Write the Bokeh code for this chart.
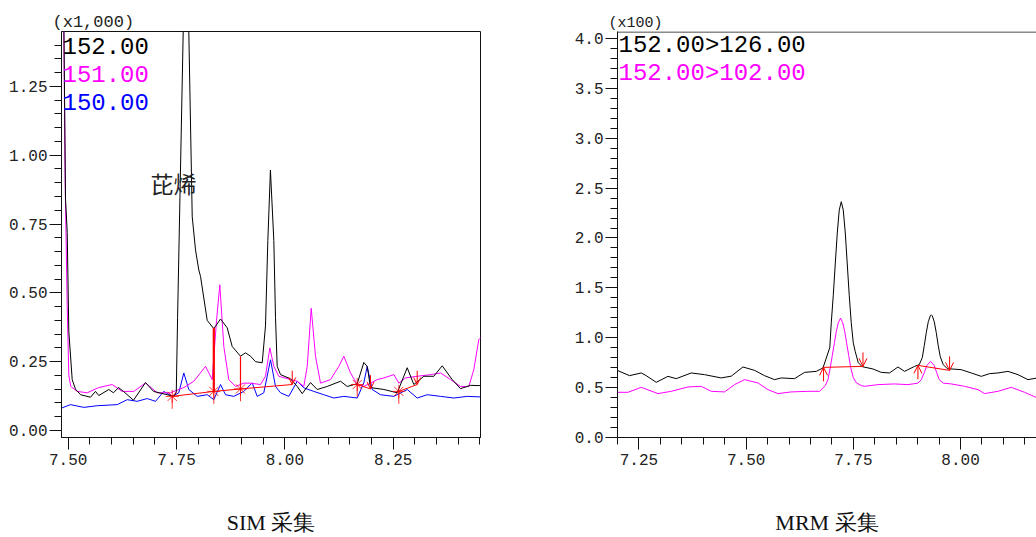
from bokeh.plotting import figure
from bokeh.layouts import row
from bokeh.models import (FixedTicker, PrintfTickFormatter, Label, Span, Arrow,
                          OpenHead, ColumnDataSource, Range1d)
from bokeh.embed import file_html
from bokeh.resources import INLINE

# ---------------- SIM acquisition (intensity, x1,000) ----------------
sim_t_152 = [7.4868, 7.4938, 7.4977, 7.5014, 7.5092, 7.5168, 7.5284, 7.5515, 7.5630, 7.5706,
             7.5937, 7.6045, 7.6161, 7.6276, 7.6507, 7.6784, 7.6969, 7.7285, 7.7437, 7.7494,
             7.7524, 7.7668, 7.7719, 7.7770, 7.7862, 7.7938, 7.8014, 7.8053, 7.8208, 7.8360,
             7.8515, 7.8669, 7.8785, 7.8976, 7.9092, 7.9207, 7.9323, 7.9477, 7.9553, 7.9607,
             7.9667, 7.9745, 7.9784, 7.9823, 7.9900, 8.0130, 8.0285, 8.0400, 8.0592, 8.0747,
             8.0977, 8.1284, 8.1439, 8.1670, 8.1822, 8.1900, 8.1977, 8.2284, 8.2593, 8.2824,
             8.2976, 8.3207, 8.3438, 8.3631, 8.3862, 8.4054, 8.4285, 8.4476, 8.4560]
sim_i_152 = [2.00, 0.84, 0.72, 0.36, 0.185, 0.15, 0.13, 0.121, 0.142, 0.127,
             0.149, 0.137, 0.156, 0.142, 0.110, 0.174, 0.142, 0.130, 0.124, 0.140,
             0.41, 1.56, 2.20, 1.56, 0.776, 0.656, 0.583, 0.56, 0.40, 0.37,
             0.405, 0.373, 0.305, 0.270, 0.282, 0.270, 0.250, 0.246, 0.38, 0.69,
             0.946, 0.69, 0.41, 0.233, 0.203, 0.188, 0.160, 0.134, 0.174, 0.149,
             0.160, 0.179, 0.160, 0.170, 0.247, 0.233, 0.156, 0.149, 0.137, 0.228,
             0.167, 0.197, 0.197, 0.235, 0.185, 0.152, 0.164, 0.163, 0.165]

sim_t_151 = [7.4868, 7.4930, 7.4977, 7.5014, 7.5060, 7.5208, 7.5438, 7.5706, 7.6015, 7.6246,
             7.6514, 7.6784, 7.7054, 7.7361, 7.7668, 7.7899, 7.8169, 7.8323, 7.8423, 7.8499,
             7.8591, 7.8706, 7.8861, 7.9053, 7.9207, 7.9438, 7.9553, 7.9653, 7.9745, 7.9860,
             8.0130, 8.0285, 8.0437, 8.0516, 8.0608, 8.0707, 8.0823, 8.1054, 8.1245, 8.1361,
             8.1515, 8.1670, 8.1822, 8.1977, 8.2131, 8.2284, 8.2516, 8.2630, 8.2784, 8.3054,
             8.3361, 8.3592, 8.3823, 8.4054, 8.4245, 8.4361, 8.4476, 8.4538]
sim_i_151 = [2.00, 0.90, 0.45, 0.20, 0.16, 0.142, 0.137, 0.156, 0.167, 0.142,
             0.142, 0.173, 0.137, 0.137, 0.156, 0.179, 0.233, 0.185, 0.40, 0.529,
             0.305, 0.185, 0.160, 0.172, 0.172, 0.167, 0.197, 0.300, 0.233, 0.197,
             0.185, 0.179, 0.160, 0.233, 0.444, 0.270, 0.172, 0.185, 0.233, 0.270,
             0.209, 0.167, 0.160, 0.172, 0.185, 0.191, 0.203, 0.172, 0.191, 0.197,
             0.203, 0.209, 0.185, 0.160, 0.160, 0.221, 0.330, 0.340]

sim_t_150 = [7.4822, 7.5053, 7.5360, 7.5669, 7.6131, 7.6362, 7.6592, 7.6823, 7.7015, 7.7206,
             7.7400, 7.7552, 7.7668, 7.7783, 7.7977, 7.8208, 7.8360, 7.8515, 7.8630, 7.8822,
             7.9053, 7.9246, 7.9362, 7.9514, 7.9669, 7.9784, 7.9900, 8.0091, 8.0285, 8.0437,
             8.0668, 8.0899, 8.1130, 8.1361, 8.1670, 8.1822, 8.1900, 8.2015, 8.2207, 8.2514,
             8.2824, 8.3054, 8.3285, 8.3592, 8.3899, 8.4208, 8.4515]
sim_i_150 = [0.080, 0.094, 0.084, 0.090, 0.094, 0.112, 0.106, 0.116, 0.106, 0.142,
             0.124, 0.137, 0.209, 0.149, 0.124, 0.130, 0.112, 0.167, 0.130, 0.124,
             0.142, 0.173, 0.124, 0.137, 0.257, 0.160, 0.137, 0.124, 0.179, 0.155,
             0.142, 0.130, 0.118, 0.124, 0.118, 0.173, 0.233, 0.149, 0.130, 0.124,
             0.149, 0.118, 0.130, 0.124, 0.118, 0.124, 0.122]

# integration baselines
sim_base_t = [[7.7400, 7.8360, 7.8976, 8.0170], [8.1670, 8.1977], [8.2630, 8.3054]]
sim_base_i = [[0.124, 0.142, 0.151, 0.167], [0.167, 0.151], [0.142, 0.167]]
# peak starts / ends
sim_start_t = [7.7400, 7.8360, 7.8976, 8.1670, 8.2630]
sim_start_i = [0.124, 0.142, 0.151, 0.167, 0.142]
sim_end_t = [8.0170, 8.1977, 8.3054]
sim_end_i = [0.167, 0.151, 0.167]
# drop lines
sim_drop_t = [7.8360, 7.8976]
sim_drop_lo = [0.142, 0.151]
sim_drop_hi = [0.373, 0.270]
sim_drop_w = [2.2, 1.2]

sim_x_ticks = [7.50, 7.75, 8.00, 8.25]
sim_x_minor = [7.45, 7.55, 7.60, 7.65, 7.70, 7.80, 7.85, 7.90, 7.95, 8.05, 8.10, 8.15,
               8.20, 8.30, 8.35, 8.40, 8.45]
sim_y_ticks = [0.00, 0.25, 0.50, 0.75, 1.00, 1.25]
sim_y_minor = [0.05, 0.10, 0.15, 0.20, 0.30, 0.35, 0.40, 0.45, 0.55, 0.60, 0.65, 0.70,
               0.80, 0.85, 0.90, 0.95, 1.05, 1.10, 1.15, 1.20, 1.30, 1.35, 1.40, 1.45]

# ---------------- MRM acquisition (intensity, x100) ----------------
mrm_t_126 = [7.2010, 7.2280, 7.2554, 7.2670, 7.2903, 7.3176, 7.3370, 7.3720, 7.4030, 7.4419,
             7.4653, 7.4925, 7.5196, 7.5429, 7.5662, 7.5819, 7.6129, 7.6362, 7.6635, 7.6791,
             7.6950, 7.6985, 7.7031, 7.7078, 7.7125, 7.7171, 7.7218, 7.7265, 7.7312, 7.7358,
             7.7405, 7.7451, 7.7498, 7.7545, 7.7615, 7.7708, 7.7957, 7.8151, 7.8344, 7.8540,
             7.8694, 7.8927, 7.9037, 7.9107, 7.9154, 7.9200, 7.9247, 7.9294, 7.9317, 7.9340,
             7.9387, 7.9434, 7.9480, 7.9527, 7.9597, 7.9690, 8.0016, 8.0250, 8.0483, 8.0676,
             8.0872, 8.1105, 8.1339, 8.1572, 8.1789]
mrm_i_126 = [0.670, 0.620, 0.647, 0.620, 0.553, 0.613, 0.590, 0.647, 0.630, 0.597,
             0.615, 0.707, 0.673, 0.620, 0.580, 0.597, 0.590, 0.653, 0.663, 0.697,
             0.900, 1.150, 1.420, 1.740, 2.050, 2.280, 2.363, 2.280, 2.050, 1.740,
             1.420, 1.150, 0.950, 0.860, 0.750, 0.710, 0.687, 0.653, 0.647, 0.707,
             0.663, 0.713, 0.730, 0.800, 0.920, 1.050, 1.160, 1.220, 1.230, 1.220,
             1.160, 1.050, 0.920, 0.810, 0.730, 0.690, 0.680, 0.647, 0.613, 0.640,
             0.647, 0.663, 0.630, 0.580, 0.597]

mrm_t_102 = [7.2010, 7.2243, 7.2554, 7.2943, 7.3253, 7.3643, 7.3953, 7.4186, 7.4496, 7.4729,
             7.4963, 7.5275, 7.5508, 7.5742, 7.6052, 7.6441, 7.6712, 7.6845, 7.6908, 7.6961,
             7.7008, 7.7055, 7.7101, 7.7148, 7.7202, 7.7253, 7.7300, 7.7346, 7.7393, 7.7439,
             7.7498, 7.7568, 7.7684, 7.7761, 7.8074, 7.8461, 7.8773, 7.9006, 7.9084, 7.9154,
             7.9212, 7.9300, 7.9387, 7.9445, 7.9503, 7.9597, 7.9783, 8.0093, 8.0406, 8.0560,
             8.0872, 8.1182, 8.1493, 8.1789]
mrm_i_102 = [0.453, 0.453, 0.503, 0.440, 0.463, 0.507, 0.513, 0.463, 0.457, 0.530,
             0.580, 0.547, 0.480, 0.440, 0.457, 0.463, 0.463, 0.520, 0.580, 0.700,
             0.820, 0.940, 1.060, 1.150, 1.197, 1.150, 1.060, 0.940, 0.820, 0.700,
             0.600, 0.550, 0.520, 0.513, 0.530, 0.537, 0.530, 0.545, 0.580, 0.650,
             0.720, 0.763, 0.720, 0.650, 0.580, 0.545, 0.537, 0.513, 0.480, 0.440,
             0.463, 0.503, 0.453, 0.397]

mrm_base_t = [[7.6805, 7.7724], [7.9006, 7.9744]]
mrm_base_i = [[0.703, 0.713], [0.723, 0.673]]
mrm_start_t = [7.6805, 7.9006]
mrm_start_i = [0.703, 0.723]
mrm_end_t = [7.7724, 7.9744]
mrm_end_i = [0.713, 0.673]

mrm_x_ticks = [7.25, 7.50, 7.75, 8.00]
mrm_x_minor = [7.20, 7.30, 7.35, 7.40, 7.45, 7.55, 7.60, 7.65, 7.70, 7.80, 7.85, 7.90,
               7.95, 8.05, 8.10, 8.15]
mrm_y_ticks = [0.0, 0.5, 1.0, 1.5, 2.0, 2.5, 3.0, 3.5, 4.0]
mrm_y_minor = [0.1, 0.2, 0.3, 0.4, 0.6, 0.7, 0.8, 0.9, 1.1, 1.2, 1.3, 1.4, 1.6, 1.7, 1.8,
               1.9, 2.1, 2.2, 2.3, 2.4, 2.6, 2.7, 2.8, 2.9, 3.1, 3.2, 3.3, 3.4, 3.6, 3.7,
               3.8, 3.9]

MONO = "Liberation Mono"
BLACK, MAGENTA, BLUE, RED = "#000000", "#ff00ff", "#0000ff", "#ff0000"


def style(p, xt, xm, yt, ym, xfmt, yfmt, caption, scale_text, scale_size):
    p.grid.visible = False
    p.background_fill_color = "white"
    p.border_fill_color = "white"
    p.xaxis.ticker = FixedTicker(ticks=xt, minor_ticks=xm)
    p.yaxis.ticker = FixedTicker(ticks=yt, minor_ticks=ym)
    p.xaxis.formatter = PrintfTickFormatter(format=xfmt)
    p.yaxis.formatter = PrintfTickFormatter(format=yfmt)
    for ax in p.axis:
        ax.axis_line_color = "#111111"
        ax.major_tick_line_color = "#111111"
        ax.minor_tick_line_color = "#111111"
        ax.major_tick_in = 0
        ax.minor_tick_in = 0
        ax.major_tick_out = 12
        ax.minor_tick_out = 7
        ax.major_label_text_font = MONO
        ax.major_label_text_font_size = "16px"
        ax.major_label_text_color = "#222222"
        ax.major_label_standoff = 2
    p.xaxis.major_label_standoff = 4
    p.xaxis.axis_label = caption
    p.xaxis.axis_label_text_font = "Liberation Serif"
    p.xaxis.axis_label_text_font_style = "normal"
    p.xaxis.axis_label_text_font_size = "22px"
    p.xaxis.axis_label_text_color = "#111111"
    p.xaxis.axis_label_standoff = 42
    # intensity multiplier shown above the y axis
    p.title.text = scale_text
    p.title.align = "left"
    p.title.offset = -9
    p.title.standoff = 0
    p.title.text_font = MONO
    p.title.text_font_size = scale_size
    p.title.text_font_style = "normal"
    p.title.text_color = "#222222"
    p.title.vertical_align = "bottom"


def arrows(p, ts, vs, stem, head):
    src = ColumnDataSource(dict(x0=ts, y0=[v + stem for v in vs], x1=ts, y1=vs))
    p.add_layout(Arrow(end=OpenHead(size=head, line_color=RED, line_width=1),
                       x_start="x0", y_start="y0", x_end="x1", y_end="y1",
                       source=src, line_color=RED, line_width=1))


# ---------------- SIM panel ----------------
p1 = figure(width=540, height=537, output_backend="svg", toolbar_location=None,
            x_range=Range1d(7.4845, 8.4515), y_range=Range1d(-0.0254, 1.4493),
            min_border_left=61, min_border_right=60, min_border_top=31, min_border_bottom=99)
p1.outline_line_color = "#111111"
p1.outline_line_width = 1
style(p1, sim_x_ticks, sim_x_minor, sim_y_ticks, sim_y_minor, "%.2f", "%.2f", "SIM 采集",
      "(x1,000)", "17px")

p1.line(sim_t_150, sim_i_150, line_color=BLUE, line_width=1)
p1.line(sim_t_151, sim_i_151, line_color=MAGENTA, line_width=1)
p1.line(sim_t_152, sim_i_152, line_color=BLACK, line_width=1)
p1.multi_line(sim_base_t, sim_base_i, line_color=RED, line_width=1)
p1.segment(x0=sim_drop_t, y0=sim_drop_lo, x1=sim_drop_t, y1=sim_drop_hi,
           line_color=RED, line_width=sim_drop_w)
p1.segment(x0=sim_start_t, y0=[v - 0.045 for v in sim_start_i], x1=sim_start_t,
           y1=sim_start_i, line_color=RED, line_width=1, line_alpha=0.8)
p1.scatter(sim_start_t, sim_start_i, marker="asterisk", size=13, line_color=RED,
           line_width=1, line_alpha=0.8)
arrows(p1, sim_end_t, sim_end_i, 0.05, 7)

for i, (txt, col) in enumerate([("152.00", BLACK), ("151.00", MAGENTA), ("150.00", BLUE)]):
    p1.add_layout(Label(x=1, y=392 - 28 * i, x_units="screen", y_units="screen", text=txt,
                        text_font=MONO, text_font_size="24px", text_color=col,
                        text_baseline="middle"))
p1.add_layout(Label(x=7.690, y=0.899, text="芘烯", text_font="Noto Sans CJK SC",
                    text_font_size="23px", text_color="#222222", text_baseline="middle"))

# ---------------- MRM panel ----------------
mrm_y_top = 4.07
p2 = figure(width=496, height=537, output_backend="svg", toolbar_location=None,
            x_range=Range1d(7.20, 8.1771), y_range=Range1d(0.0, mrm_y_top),
            min_border_left=77, min_border_right=0, min_border_top=31, min_border_bottom=99)
p2.outline_line_color = None
style(p2, mrm_x_ticks, mrm_x_minor, mrm_y_ticks, mrm_y_minor, "%.2f", "%.1f", "MRM 采集",
      "(x100)", "15px")
p2.add_layout(Span(location=mrm_y_top - 0.005, dimension="width", line_color="#111111",
                   line_width=1))

p2.line(mrm_t_102, mrm_i_102, line_color=MAGENTA, line_width=1)
p2.line(mrm_t_126, mrm_i_126, line_color=BLACK, line_width=1)
p2.multi_line(mrm_base_t, mrm_base_i, line_color=RED, line_width=1)
arrows(p2, mrm_start_t, mrm_start_i, -0.14, 8)
arrows(p2, mrm_end_t, mrm_end_i, 0.14, 8)

for i, (txt, col) in enumerate([("152.00>126.00", BLACK), ("152.00>102.00", MAGENTA)]):
    p2.add_layout(Label(x=1, y=392 - 28 * i, x_units="screen", y_units="screen", text=txt,
                        text_font=MONO, text_font_size="24px", text_color=col,
                        text_baseline="middle"))

layout = row(p1, p2)
open("out.html", "w").write(file_html(layout, INLINE))
